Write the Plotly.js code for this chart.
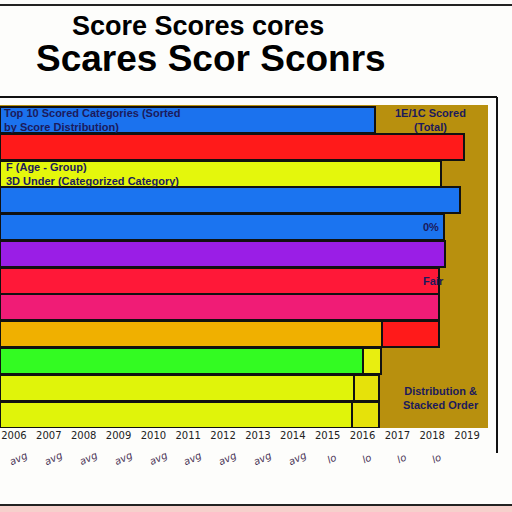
<!DOCTYPE html>
<html><head><meta charset="utf-8">
<script src="https://cdn.plot.ly/plotly-3.0.1.min.js"></script>
<style>html,body{margin:0;padding:0;background:#fff;}#chart{width:512px;height:512px;}</style>
</head><body><div id="chart"></div>
<script>
// ---- data ----
const categories = ["Cat A","Cat B","Cat C","Cat D","Cat E","Cat F","Cat G","Cat H","Cat I","Cat J","Cat K","Cat L"];
const mainScores = [53.8, 66.6, 63.3, 66.0, 63.7, 63.8, 63.0, 63.0, 54.8, 52.1, 50.8, 50.5];
const extraScores = [0, 0, 0, 0, 0, 0, 0, 0, 8.2, 2.6, 3.6, 3.9];
const tickValues = [2,7,12,17,22,27,32,37,42,47,52,57,62,67];
const tickLabels = ["2006","2007","2008","2009","2010","2011","2012","2013","2014","2015","2016","2017","2018","2019"];
const subLabels = ["avg","avg","avg","avg","avg","avg","avg","avg","avg","lo","lo","lo","lo"];

// ---- styles ----
const mainColors = ["#1b72ee","#ff1a1a","#e4f70c","#1b74f0","#1b74f0","#9a1ee6","#ff1838","#f01c76","#f0b000","#33fb22","#e0f40a","#e0f40a"];
const extraColors = ["#000","#000","#000","#000","#000","#000","#000","#000","#ff1a1a","#e8ee10","#e6e20a","#e6e20a"];
const navy = "#1c1a5c";

const traces = [
  {type:"bar", orientation:"h", y:categories, x:mainScores,
   marker:{color:mainColors, line:{color:"#111", width:2}}, hoverinfo:"skip"},
  {type:"bar", orientation:"h", y:categories, x:extraScores,
   marker:{color:extraColors, line:{color:"#111", width:2}}, hoverinfo:"skip"}
];

const ann = [];
// title lines
ann.push({xref:"paper", yref:"paper", x:(198)/488, y:(428-26)/323, text:"Score Scores cores",
  showarrow:false, font:{family:"Liberation Sans, Arial", size:27, color:"#000", weight:"bold"}, xanchor:"center", yanchor:"middle"});
ann.push({xref:"paper", yref:"paper", x:(211)/488, y:(428-58)/323, text:"Scares Scor Sconrs",
  showarrow:false, font:{family:"Liberation Sans, Arial", size:37, color:"#000", weight:"bold"}, xanchor:"center", yanchor:"middle"});
// in-bar text
const f = {family:"Liberation Sans Narrow, Liberation Sans, Arial", size:11, color:navy, weight:"bold"};
ann.push({x:0.3, y:categories[0], text:"Top 10 Scored Categories (Sorted<br>by Score Distribution)", showarrow:false, xanchor:"left", align:"left", font:f});
ann.push({x:0.6, y:categories[2], text:"F (Age - Group)<br>3D Under (Categorized Category)", showarrow:false, xanchor:"left", align:"left", font:f});
ann.push({x:61.8, y:categories[0], text:"1E/1C Scored<br>(Total)", showarrow:false, xanchor:"center", font:f});
ann.push({x:63.3, y:categories[4], text:"0%", showarrow:false, xanchor:"right", font:f});
ann.push({x:62.2, y:categories[6], text:"Fair", showarrow:false, xanchor:"center", font:f});
ann.push({x:63.3, y:categories[10], text:"Distribution &amp;<br>Stacked Order", showarrow:false, xanchor:"center", yshift:-10, font:f});
// slanted second row of x labels
subLabels.forEach((t,i)=>{
  ann.push({x:tickValues[i]+0.6, xref:"x", yref:"paper", y:(428-458)/323, yanchor:"middle", text:t, showarrow:false, textangle:-25,
    font:{family:"DejaVu Sans", size:10, color:"#4a3456", style:"italic"}});
});

const shapes = [
  {type:"line", xref:"paper", yref:"paper", x0:-0.01, x1:1.06, y0:(428-5)/323, y1:(428-5)/323, line:{color:"#222", width:2}},
  {type:"line", xref:"paper", yref:"paper", x0:-0.01, x1:497/488, y0:(428-97)/323, y1:(428-97)/323, line:{color:"#111", width:2}},
  {type:"line", xref:"paper", yref:"paper", x0:497/488, x1:497/488, y0:(428-97)/323, y1:(428-453)/323, line:{color:"#111", width:2}},
  {type:"line", xref:"paper", yref:"paper", x0:-0.01, x1:1.06, y0:(428-505)/323, y1:(428-505)/323, line:{color:"#222", width:2}},
  {type:"rect", xref:"paper", yref:"paper", x0:-0.01, x1:1.06, y0:(428-506)/323, y1:(428-513)/323, fillcolor:"#f6d0cc", line:{width:0}}
];

const layout = {
  width:512, height:512,
  margin:{l:0, r:24, t:105, b:84},
  paper_bgcolor:"#fdfdfb",
  plot_bgcolor:"#b8900e",
  barmode:"stack",
  bargap:0.03,
  showlegend:false,
  xaxis:{range:[0,70], tickvals:tickValues, ticktext:tickLabels, showgrid:false, zeroline:false,
    tickfont:{family:"DejaVu Sans", size:10, color:"#222"}, ticks:"", fixedrange:true},
  yaxis:{type:"category", autorange:"reversed", showticklabels:false, showgrid:false, zeroline:false, ticks:""},
  annotations:ann,
  shapes:shapes
};
Plotly.newPlot("chart", traces, layout, {displayModeBar:false, staticPlot:true});
</script></body></html>
